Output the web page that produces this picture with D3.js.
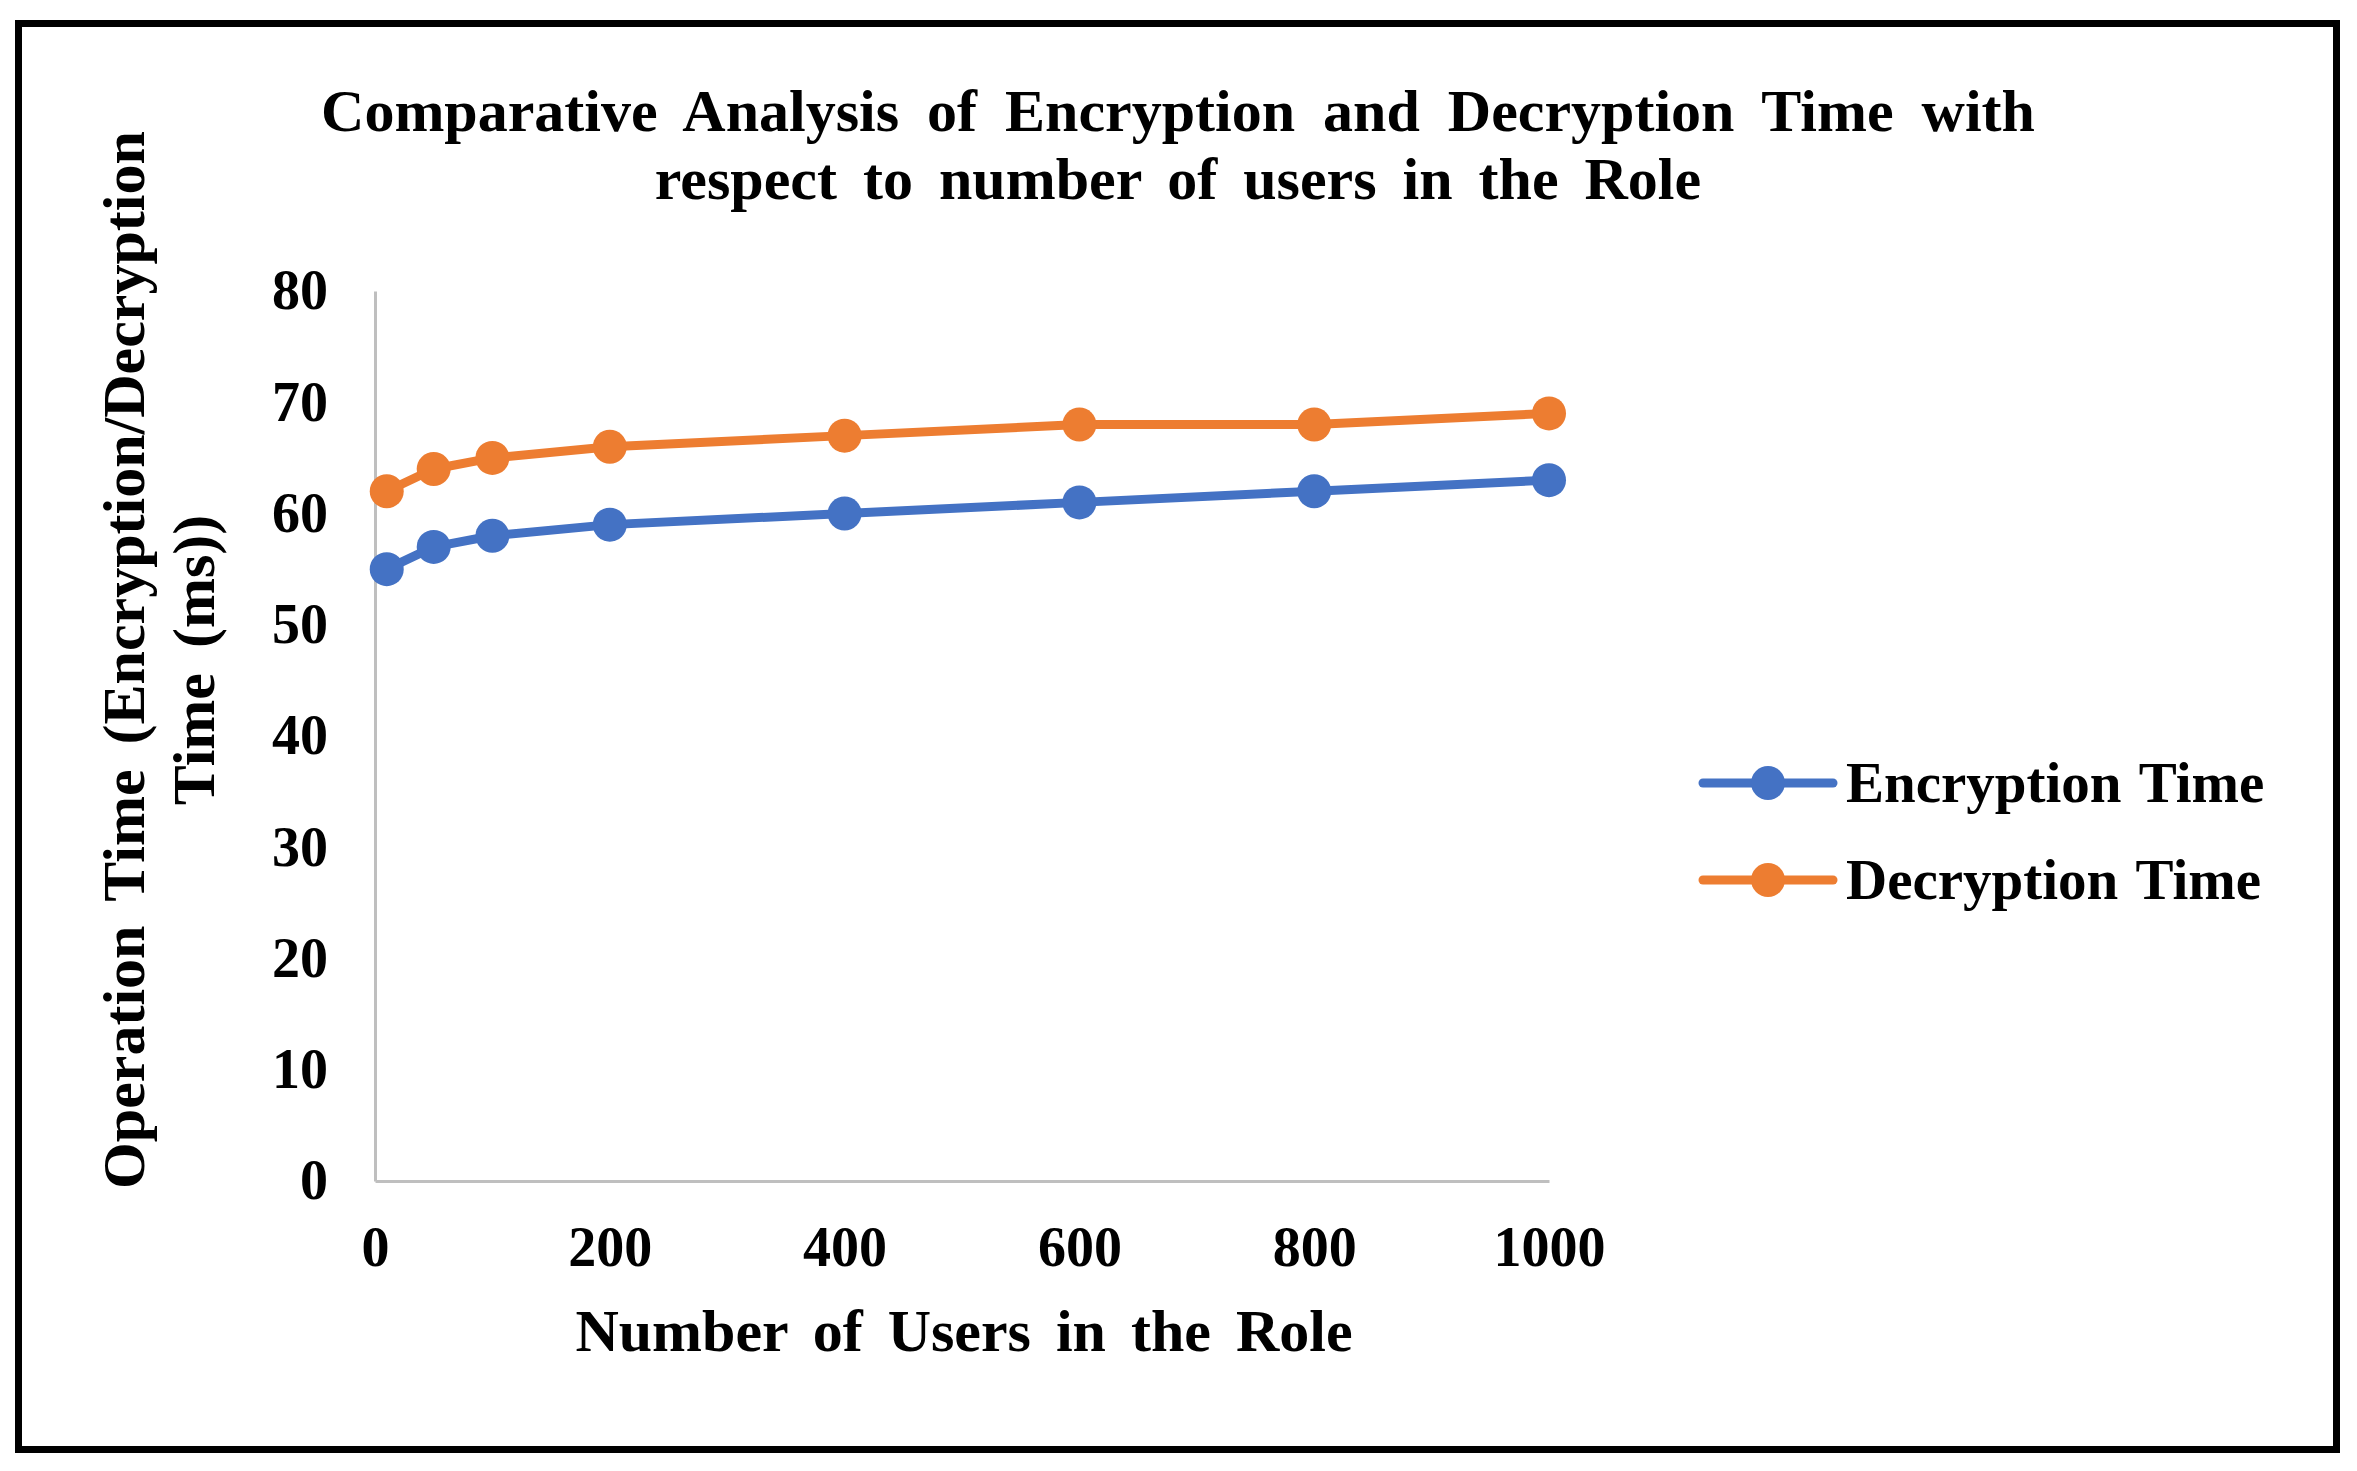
<!DOCTYPE html>
<html>
<head>
<meta charset="utf-8">
<script src="https://cdn.jsdelivr.net/npm/d3@7"></script>
<style>
  body { margin: 0; background: #fff; }
  text { font-family: "Liberation Serif", "Times New Roman", serif; font-weight: bold; fill: #000; }
</style>
</head>
<body>
<svg id="chart"></svg>
<script>
// data
const users = [10, 50, 100, 200, 400, 600, 800, 1000]
const encryptionTime = [55, 57, 58, 59, 60, 61, 62, 63]
const decryptionTime = [62, 64, 65, 66, 67, 68, 68, 69]
const xTicks = [0, 200, 400, 600, 800, 1000]
const yTicks = [0, 10, 20, 30, 40, 50, 60, 70, 80]
const titleLines = ['Comparative Analysis of Encryption and Decryption Time with', 'respect to number of users in the Role']
const yTitleLines = ['Operation Time (Encryption/Decryption', 'Time (ms))']
const xTitle = 'Number of Users in the Role'

const series = [
    { name: 'Encryption Time', color: '#4472C4', values: encryptionTime },
    { name: 'Decryption Time', color: '#ED7D31', values: decryptionTime }
]

const width = 2357
const height = 1471
const plot = { left: 375, right: 1549, top: 291, bottom: 1181 }

const svg = d3.select('#chart')
    .attr('width', width)
    .attr('height', height)

// frame
svg.append('rect')
    .attr('x', 18.5)
    .attr('y', 23.5)
    .attr('width', 2318)
    .attr('height', 1426)
    .attr('fill', 'none')
    .attr('stroke', '#000')
    .attr('stroke-width', 7)

const x = d3.scaleLinear().domain([0, 1000]).range([plot.left, plot.right])
const y = d3.scaleLinear().domain([0, 80]).range([plot.bottom, plot.top])

// title
svg.append('g')
    .selectAll('text')
    .data(titleLines)
    .enter().append('text')
    .attr('x', 1178)
    .attr('y', (d, i) => 131 + i * 68)
    .attr('text-anchor', 'middle')
    .attr('font-size', '60px')
    .attr('word-spacing', (d, i) => i === 0 ? 13 : 11)
    .text(d => d)

// y axis
const yAxis = svg.append('g')
    .attr('transform', `translate(${plot.left},0)`)
    .call(d3.axisLeft(y).tickValues(yTicks).tickSize(0).tickPadding(47))
yAxis.select('.domain').attr('stroke', '#bfbfbf').attr('stroke-width', 3)
yAxis.selectAll('text')
    .attr('font-size', '56px')
    .attr('font-family', '"Liberation Serif", serif')
    .attr('font-weight', 'bold')
    .attr('fill', '#000')

// x axis
const xAxis = svg.append('g')
    .attr('transform', `translate(0,${plot.bottom})`)
    .call(d3.axisBottom(x).tickValues(xTicks).tickFormat(d3.format('d')).tickSize(0).tickPadding(45))
xAxis.select('.domain').attr('stroke', '#bfbfbf').attr('stroke-width', 3)
xAxis.selectAll('text')
    .attr('font-size', '56px')
    .attr('font-family', '"Liberation Serif", serif')
    .attr('font-weight', 'bold')
    .attr('fill', '#000')

// axis titles
svg.append('text')
    .attr('x', 964)
    .attr('y', 1351)
    .attr('text-anchor', 'middle')
    .attr('font-size', '60px')
    .attr('word-spacing', 10)
    .text(xTitle)

svg.append('g')
    .attr('transform', 'translate(144,660) rotate(-90)')
    .selectAll('text')
    .data(yTitleLines)
    .enter().append('text')
    .attr('x', 0)
    .attr('y', (d, i) => i * 70)
    .attr('text-anchor', 'middle')
    .attr('font-size', '60px')
    .attr('word-spacing', 10)
    .text(d => d)

// lines and markers
const line = d3.line()
    .x((d, i) => x(users[i]))
    .y(d => y(d))

const s = svg.append('g')
    .selectAll('g')
    .data(series)
    .enter().append('g')

s.append('path')
    .attr('d', d => line(d.values))
    .attr('fill', 'none')
    .attr('stroke', d => d.color)
    .attr('stroke-width', 9)
    .attr('stroke-linejoin', 'round')

s.selectAll('circle')
    .data(d => d.values.map((v, i) => ({ v, i, color: d.color })))
    .enter().append('circle')
    .attr('cx', d => x(users[d.i]))
    .attr('cy', d => y(d.v))
    .attr('r', 17)
    .attr('fill', d => d.color)

// legend
const legend = svg.append('g')
    .selectAll('g')
    .data(series)
    .enter().append('g')
    .attr('transform', (d, i) => `translate(1703,${783 + i * 97})`)

legend.append('line')
    .attr('x1', 0)
    .attr('x2', 130)
    .attr('stroke', d => d.color)
    .attr('stroke-width', 9)
    .attr('stroke-linecap', 'round')

legend.append('circle')
    .attr('cx', 65)
    .attr('r', 17)
    .attr('fill', d => d.color)

legend.append('text')
    .attr('x', 143)
    .attr('y', 19)
    .attr('font-size', '57px')
    .attr('word-spacing', 4)
    .text(d => d.name)
</script>
</body>
</html>
